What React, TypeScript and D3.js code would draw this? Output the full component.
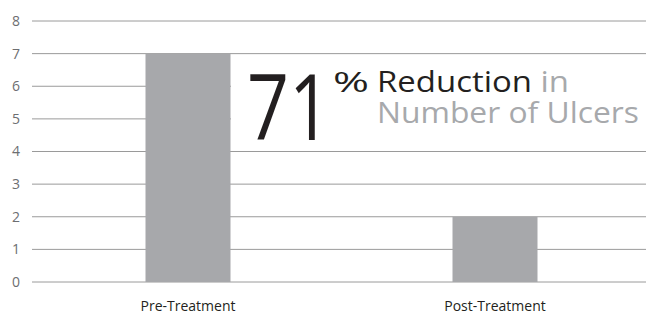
import React from "react";
import * as d3 from "d3";

const categories = ["Pre-Treatment", "Post-Treatment"];
const values = [7, 2];
const yTicks = [0, 1, 2, 3, 4, 5, 6, 7, 8];
const bigNumber = "71";
const percentSign = "%";
const line1a = "Reduction";
const line1b = " in";
const line2 = "Number of Ulcers";

const W = 646;
const H = 314;
const FONT = "'Open Sans', 'Noto Sans', sans-serif";

export default function App() {
  const y = d3.scaleLinear().domain([0, 8]).range([282, 21]);
  const x = d3.scaleBand<string>().domain(categories).range([32, 646]).paddingInner(0);
  const barW = 85;
  const barOffset = 113.5;

  return (
    <svg width={W} height={H} style={{ position: "absolute", left: 0, top: 0 }}>
      <rect x={0} y={0} width={W} height={H} fill="#fff" />
      {yTicks.map((t) => (
        <g key={t}>
          <line x1={32} x2={646} y1={y(t)} y2={y(t)} stroke="#9a9a9a" strokeWidth={1} />
          <text x={20} y={y(t)} dy="0.35em" textAnchor="end" fontFamily={FONT} fontSize={14} fill="#6d6e71">
            {t}
          </text>
        </g>
      ))}
      {/* white backdrop behind the annotation */}
      <rect x={231} y={58} width={415} height={90} fill="#fff" />
      {categories.map((c, i) => (
        <rect
          key={c}
          x={(x(c) as number) + barOffset}
          y={y(values[i])}
          width={barW}
          height={y(0) - y(values[i])}
          fill="#a7a8ab"
        />
      ))}
      {categories.map((c) => (
        <text
          key={c}
          x={(x(c) as number) + barOffset + barW / 2}
          y={311}
          textAnchor="middle"
          fontFamily={FONT}
          fontSize={14}
          fill="#231f20"
        >
          {c}
        </text>
      ))}
      <text x={247} y={140} fontFamily={FONT} fontSize={91} fill="#231f20" textLength={84} lengthAdjust="spacingAndGlyphs">
        {bigNumber}
      </text>
      <text x={333} y={92} fontFamily={FONT} fontSize={27} fill="#231f20" textLength={36} lengthAdjust="spacingAndGlyphs">
        {percentSign}
      </text>
      <text x={377} y={92} fontFamily={FONT} fontSize={29} textLength={192} lengthAdjust="spacingAndGlyphs">
        <tspan fill="#231f20">{line1a}</tspan>
        <tspan fill="#a7a9ac">{line1b}</tspan>
      </text>
      <text x={377} y={123} fontFamily={FONT} fontSize={29} fill="#a7a9ac" textLength={262} lengthAdjust="spacingAndGlyphs">
        {line2}
      </text>
    </svg>
  );
}
